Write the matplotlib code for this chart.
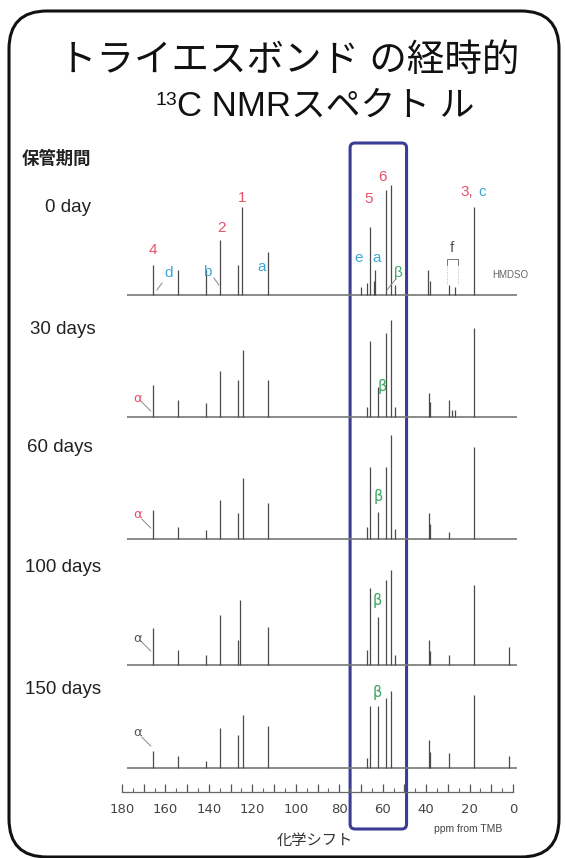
import matplotlib
matplotlib.use("Agg")
import matplotlib.pyplot as plt
from matplotlib.patches import FancyBboxPatch
from matplotlib.ticker import MultipleLocator, FuncFormatter

W, H = 565, 858
JP = ["Liberation Sans", "Noto Sans CJK JP"]

# ── Data ──────────────────────────────────────────────────────────────────────

TITLE_1 = "トライエスボンド の経時的"
TITLE_2 = "C NMRスペクト ル"
PERIOD_HEADER = "保管期間"
PERIODS = ["0 day", "30 days", "60 days", "100 days", "150 days"]
X_LABEL = "化学シフト"
X_UNIT = "ppm from TMB"

# peak positions (ppm) and heights (arb. units) for each storage period
PPM_0 = [165.5, 154.0, 141.5, 134.8, 126.5, 124.8, 112.7, 70.0, 67.0, 65.8,
         64.0, 63.5, 58.5, 56.0, 54.5, 39.0, 38.3, 29.5, 26.5, 18.0]
INT_0 = [30, 25, 25, 55, 30, 88, 43, 8, 12, 68,
         14, 25, 105, 110, 10, 25, 14, 10, 8, 88]

PPM_30 = [165.5, 154.0, 141.5, 134.8, 126.5, 124.5, 112.7, 67.0, 65.8, 62.0,
          58.5, 56.0, 54.5, 38.5, 38.0, 29.5, 28.0, 26.5, 18.0]
INT_30 = [32, 17, 14, 46, 37, 67, 37, 10, 76, 30,
          84, 97, 10, 24, 15, 17, 7, 7, 89]

PPM_60 = [165.5, 154.0, 141.5, 134.8, 126.5, 124.5, 112.7, 67.0, 65.8, 62.0,
          58.5, 56.0, 54.5, 38.5, 38.0, 29.5, 18.0]
INT_60 = [29, 12, 9, 39, 26, 61, 36, 12, 72, 27,
          72, 104, 10, 26, 15, 7, 92]

PPM_100 = [165.5, 154.0, 141.5, 134.8, 126.5, 125.5, 112.7, 67.0, 65.8, 62.0,
           58.5, 56.0, 54.5, 38.5, 38.0, 29.5, 18.0, 2.0]
INT_100 = [37, 15, 10, 50, 25, 65, 38, 15, 77, 48,
           85, 95, 10, 25, 14, 10, 80, 18]

PPM_150 = [165.5, 154.0, 141.5, 134.8, 126.5, 124.5, 112.7, 67.0, 65.8, 62.0,
           58.5, 56.0, 38.5, 38.0, 29.5, 18.0, 2.0]
INT_150 = [17, 12, 7, 40, 33, 53, 42, 10, 62, 62,
           70, 77, 28, 16, 15, 73, 12]

SPECTRA = [(PPM_0, INT_0), (PPM_30, INT_30), (PPM_60, INT_60),
           (PPM_100, INT_100), (PPM_150, INT_150)]

# peak assignments on the 0-day spectrum: (text, ppm, colour key)
ASSIGN_0 = [("4", 165.7, "red"), ("2", 134.1, "red"), ("1", 124.9, "red"),
            ("5", 66.3, "red"), ("6", 59.9, "red"), ("3,", 21.2, "red"),
            ("c", 14.4, "cyan"), ("d", 158.7, "cyan"), ("b", 140.9, "cyan"),
            ("a", 115.7, "cyan"), ("e", 70.9, "cyan"), ("a", 62.8, "cyan"),
            ("β", 52.9, "green"), ("f", 28.2, "dark")]

BOX_PPM = (75.0, 49.0)
SCALE_MAX, SCALE_MIN = 180, 0

# ── Layout (pixels) ───────────────────────────────────────────────────────────

BASELINES = [295, 417, 539, 665, 768]
ROW_LABEL_Y = [207, 330, 447, 567, 690]
ROW_LABEL_X = [45, 30, 27, 25, 25]
ASSIGN_0_Y = [250, 228, 198, 199, 177, 192, 192, 273, 272, 267, 258, 258, 273, 248]
ALPHA_Y = [398, 515, 638, 733]
BETA_Y = [387, 497, 600, 693]
BETA_PPM = [60.4, 62.2, 62.7, 62.7]

COLORS = {"red": "#e8506a", "cyan": "#3aa8d8", "green": "#3aa860",
          "dark": "#555555"}

PX0, PX180 = 513, 122          # pixel x of 0 ppm and 180 ppm
PPM_PER_PX = 180 / (PX0 - PX180)
SCALE_Y = 792                   # pixel y of the chemical-shift scale line


def ppm_to_px(p):
    return PX0 - p / PPM_PER_PX


fig = plt.figure(figsize=(W / 100, H / 100), dpi=100)

# pixel-space layer: frame, titles, row captions, highlight box
bg = fig.add_axes([0, 0, 1, 1])
bg.set_xlim(0, W)
bg.set_ylim(H, 0)
bg.axis("off")

frame = FancyBboxPatch((9, 11), 550, 846,
                       boxstyle="round,pad=0,rounding_size=38",
                       fc="white", ec="#111111", lw=2.2, zorder=0)
bg.add_patch(frame)

bg.text(289, 61, TITLE_1, ha="center", va="center", fontsize=27,
        family=JP, color="#111111")
t2 = bg.text(177, 106, TITLE_2, ha="left", va="center", fontsize=25,
             family=JP, color="#111111")
bg.annotate("13", xy=(0, 0.92), xycoords=t2, ha="right", va="top",
            fontsize=14, family=JP, color="#111111")

bg.text(22, 158, PERIOD_HEADER, ha="left", va="center", fontsize=12.5,
        family=JP, color="#222222", weight="bold")
for lab, x, y in zip(PERIODS, ROW_LABEL_X, ROW_LABEL_Y):
    bg.text(x, y, lab, ha="left", va="center", fontsize=13.5,
            family=JP, color="#222222")

bx0, bx1 = ppm_to_px(BOX_PPM[0]), ppm_to_px(BOX_PPM[1])
box = FancyBboxPatch((bx0, 143), bx1 - bx0, 686,
                     boxstyle="round,pad=0,rounding_size=5",
                     fc="none", ec="#3c3c96", lw=2.2, zorder=5)
bg.add_patch(box)

bg.text(315, 841, X_LABEL, ha="center", va="center", fontsize=11,
        family=JP, color="#333333")
bg.text(468, 829, X_UNIT, ha="center", va="center", fontsize=7.5,
        family=JP, color="#444444")

# spectra layer: x in ppm, y in pixels
ax = fig.add_axes([0, 0, 1, 1])
ax.set_xlim(SCALE_MAX + PX180 * PPM_PER_PX, SCALE_MIN - (W - PX0) * PPM_PER_PX)
ax.set_ylim(H, 0)
ax.axis("off")

for (ppm, inten), base in zip(SPECTRA, BASELINES):
    ax.hlines(base, 177.5, -2.0, color="#777777", lw=1.2)
    ax.vlines(ppm, base, [base - v for v in inten], color="#4a4a4a", lw=0.9)

for (txt, p, ck), y in zip(ASSIGN_0, ASSIGN_0_Y):
    ax.text(p, y, txt, ha="center", va="center", fontsize=11,
            color=COLORS[ck], family=JP)

# leader lines and bracket on the 0-day trace
ax.plot([161.6, 163.9], [283, 290], color="#888888", lw=0.7)
ax.plot([137.7, 135.4], [278, 285], color="#888888", lw=0.7)
ax.plot([54.3, 58.0], [280, 290], color="#888888", lw=0.7)
ax.plot([30.5, 30.5, 25.2, 25.2], [265, 259, 259, 265], color="#777777", lw=0.7)
ax.vlines([30.5, 25.2], 265, 285, color="#aaaaaa", lw=0.6, linestyles=":")
ax.text(1.4, 275, "HMDSO", ha="center", va="center", fontsize=7,
        color="#666666", family=JP)

alpha_cols = ["red", "red", "dark", "dark"]
for y, ck in zip(ALPHA_Y, alpha_cols):
    ax.text(172.6, y, "α", ha="center", va="center", fontsize=9.5,
            color=COLORS[ck])
    ax.plot([170.9, 166.8], [y + 4, y + 13], color="#888888", lw=0.7)

for p, y in zip(BETA_PPM, BETA_Y):
    ax.text(p, y, "β", ha="center", va="center", fontsize=10.5,
            color=COLORS["green"])

# chemical-shift scale
sc = fig.add_axes([PX180 / W, (H - SCALE_Y) / H, (PX0 - PX180) / W, 0.0001])
sc.set_xlim(SCALE_MAX, SCALE_MIN)
sc.set_yticks([])
for s in ("top", "left", "right"):
    sc.spines[s].set_visible(False)
sc.spines["bottom"].set_color("#666666")
sc.spines["bottom"].set_linewidth(0.9)
sc.xaxis.set_major_locator(MultipleLocator(10))
sc.xaxis.set_minor_locator(MultipleLocator(5))
sc.xaxis.set_major_formatter(
    FuncFormatter(lambda v, _: f"{v:.0f}" if round(v) % 20 == 0 else ""))
sc.tick_params(axis="x", which="major", direction="in", length=6, width=0.9,
               color="#555555", labelsize=9.5, labelcolor="#444444", pad=8)
sc.tick_params(axis="x", which="minor", direction="in", length=3, width=0.8,
               color="#666666")

fig.savefig("out.png", dpi=100)
